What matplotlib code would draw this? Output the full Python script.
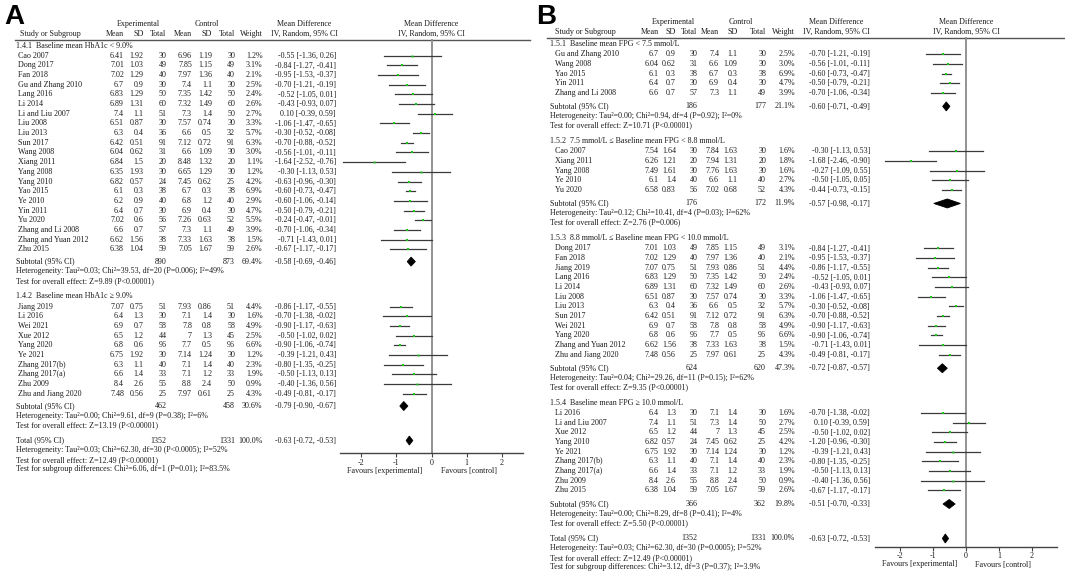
import matplotlib.pyplot as plt
from matplotlib.patches import Polygon

plt.rcParams["font.family"] = ["Liberation Serif", "DejaVu Serif"]

# rows: study, exp mean, exp SD, exp n, ctl mean, ctl SD, ctl n, weight %, MD, lower, upper
hba1c_low = [
    ("Cao 2007", 6.41, 1.92, 30, 6.96, 1.19, 30, 1.2, -0.55, -1.36, 0.26),
    ("Dong 2017", 7.01, 1.03, 49, 7.85, 1.15, 49, 3.1, -0.84, -1.27, -0.41),
    ("Fan 2018", 7.02, 1.29, 40, 7.97, 1.36, 40, 2.1, -0.95, -1.53, -0.37),
    ("Gu and Zhang 2010", 6.7, 0.9, 30, 7.4, 1.1, 30, 2.5, -0.70, -1.21, -0.19),
    ("Lang 2016", 6.83, 1.29, 50, 7.35, 1.42, 50, 2.4, -0.52, -1.05, 0.01),
    ("Li 2014", 6.89, 1.31, 60, 7.32, 1.49, 60, 2.6, -0.43, -0.93, 0.07),
    ("Li and Liu 2007", 7.4, 1.1, 51, 7.3, 1.4, 50, 2.7, 0.10, -0.39, 0.59),
    ("Liu 2008", 6.51, 0.87, 30, 7.57, 0.74, 30, 3.3, -1.06, -1.47, -0.65),
    ("Liu 2013", 6.3, 0.4, 36, 6.6, 0.5, 32, 5.7, -0.30, -0.52, -0.08),
    ("Sun 2017", 6.42, 0.51, 91, 7.12, 0.72, 91, 6.3, -0.70, -0.88, -0.52),
    ("Wang 2008", 6.04, 0.62, 31, 6.6, 1.09, 30, 3.0, -0.56, -1.01, -0.11),
    ("Xiang 2011", 6.84, 1.5, 20, 8.48, 1.32, 20, 1.1, -1.64, -2.52, -0.76),
    ("Yang 2008", 6.35, 1.93, 30, 6.65, 1.29, 30, 1.2, -0.30, -1.13, 0.53),
    ("Yang 2010", 6.82, 0.57, 24, 7.45, 0.62, 25, 4.2, -0.63, -0.96, -0.30),
    ("Yao 2015", 6.1, 0.3, 38, 6.7, 0.3, 38, 6.9, -0.60, -0.73, -0.47),
    ("Ye 2010", 6.2, 0.9, 40, 6.8, 1.2, 40, 2.9, -0.60, -1.06, -0.14),
    ("Yin 2011", 6.4, 0.7, 30, 6.9, 0.4, 30, 4.7, -0.50, -0.79, -0.21),
    ("Yu 2020", 7.02, 0.6, 56, 7.26, 0.63, 52, 5.5, -0.24, -0.47, -0.01),
    ("Zhang and Li 2008", 6.6, 0.7, 57, 7.3, 1.1, 49, 3.9, -0.70, -1.06, -0.34),
    ("Zhang and Yuan 2012", 6.62, 1.56, 38, 7.33, 1.63, 38, 1.5, -0.71, -1.43, 0.01),
    ("Zhu 2015", 6.38, 1.04, 59, 7.05, 1.67, 59, 2.6, -0.67, -1.17, -0.17),
]
hba1c_high = [
    ("Jiang 2019", 7.07, 0.75, 51, 7.93, 0.86, 51, 4.4, -0.86, -1.17, -0.55),
    ("Li 2016", 6.4, 1.3, 30, 7.1, 1.4, 30, 1.6, -0.70, -1.38, -0.02),
    ("Wei 2021", 6.9, 0.7, 58, 7.8, 0.8, 58, 4.9, -0.90, -1.17, -0.63),
    ("Xue 2012", 6.5, 1.2, 44, 7, 1.3, 45, 2.5, -0.50, -1.02, 0.02),
    ("Yang 2020", 6.8, 0.6, 96, 7.7, 0.5, 96, 6.6, -0.90, -1.06, -0.74),
    ("Ye 2021", 6.75, 1.92, 30, 7.14, 1.24, 30, 1.2, -0.39, -1.21, 0.43),
    ("Zhang 2017(b)", 6.3, 1.1, 40, 7.1, 1.4, 40, 2.3, -0.80, -1.35, -0.25),
    ("Zhang 2017(a)", 6.6, 1.4, 33, 7.1, 1.2, 33, 1.9, -0.50, -1.13, 0.13),
    ("Zhu 2009", 8.4, 2.6, 55, 8.8, 2.4, 50, 0.9, -0.40, -1.36, 0.56),
    ("Zhu and Jiang 2020", 7.48, 0.56, 25, 7.97, 0.61, 25, 4.3, -0.49, -0.81, -0.17),
]
fpg_1 = [
    ("Gu and Zhang 2010", 6.7, 0.9, 30, 7.4, 1.1, 30, 2.5, -0.70, -1.21, -0.19),
    ("Wang 2008", 6.04, 0.62, 31, 6.6, 1.09, 30, 3.0, -0.56, -1.01, -0.11),
    ("Yao 2015", 6.1, 0.3, 38, 6.7, 0.3, 38, 6.9, -0.60, -0.73, -0.47),
    ("Yin 2011", 6.4, 0.7, 30, 6.9, 0.4, 30, 4.7, -0.50, -0.79, -0.21),
    ("Zhang and Li 2008", 6.6, 0.7, 57, 7.3, 1.1, 49, 3.9, -0.70, -1.06, -0.34),
]
fpg_2 = [
    ("Cao 2007", 7.54, 1.64, 30, 7.84, 1.63, 30, 1.6, -0.30, -1.13, 0.53),
    ("Xiang 2011", 6.26, 1.21, 20, 7.94, 1.31, 20, 1.8, -1.68, -2.46, -0.90),
    ("Yang 2008", 7.49, 1.61, 30, 7.76, 1.63, 30, 1.6, -0.27, -1.09, 0.55),
    ("Ye 2010", 6.1, 1.4, 40, 6.6, 1.1, 40, 2.7, -0.50, -1.05, 0.05),
    ("Yu 2020", 6.58, 0.83, 56, 7.02, 0.68, 52, 4.3, -0.44, -0.73, -0.15),
]
fpg_3 = [
    ("Dong 2017", 7.01, 1.03, 49, 7.85, 1.15, 49, 3.1, -0.84, -1.27, -0.41),
    ("Fan 2018", 7.02, 1.29, 40, 7.97, 1.36, 40, 2.1, -0.95, -1.53, -0.37),
    ("Jiang 2019", 7.07, 0.75, 51, 7.93, 0.86, 51, 4.4, -0.86, -1.17, -0.55),
    ("Lang 2016", 6.83, 1.29, 50, 7.35, 1.42, 50, 2.4, -0.52, -1.05, 0.01),
    ("Li 2014", 6.89, 1.31, 60, 7.32, 1.49, 60, 2.6, -0.43, -0.93, 0.07),
    ("Liu 2008", 6.51, 0.87, 30, 7.57, 0.74, 30, 3.3, -1.06, -1.47, -0.65),
    ("Liu 2013", 6.3, 0.4, 36, 6.6, 0.5, 32, 5.7, -0.30, -0.52, -0.08),
    ("Sun 2017", 6.42, 0.51, 91, 7.12, 0.72, 91, 6.3, -0.70, -0.88, -0.52),
    ("Wei 2021", 6.9, 0.7, 58, 7.8, 0.8, 58, 4.9, -0.90, -1.17, -0.63),
    ("Yang 2020", 6.8, 0.6, 96, 7.7, 0.5, 96, 6.6, -0.90, -1.06, -0.74),
    ("Zhang and Yuan 2012", 6.62, 1.56, 38, 7.33, 1.63, 38, 1.5, -0.71, -1.43, 0.01),
    ("Zhu and Jiang 2020", 7.48, 0.56, 25, 7.97, 0.61, 25, 4.3, -0.49, -0.81, -0.17),
]
fpg_4 = [
    ("Li 2016", 6.4, 1.3, 30, 7.1, 1.4, 30, 1.6, -0.70, -1.38, -0.02),
    ("Li and Liu 2007", 7.4, 1.1, 51, 7.3, 1.4, 50, 2.7, 0.10, -0.39, 0.59),
    ("Xue 2012", 6.5, 1.2, 44, 7, 1.3, 45, 2.5, -0.50, -1.02, 0.02),
    # printed estimate in the source is -1.20, the marker sits at -0.63
    ("Yang 2010", 6.82, 0.57, 24, 7.45, 0.62, 25, 4.2, -0.63, -0.96, -0.30, "-1.20 [-0.96, -0.30]"),
    ("Ye 2021", 6.75, 1.92, 30, 7.14, 1.24, 30, 1.2, -0.39, -1.21, 0.43),
    ("Zhang 2017(b)", 6.3, 1.1, 40, 7.1, 1.4, 40, 2.3, -0.80, -1.35, -0.25),
    ("Zhang 2017(a)", 6.6, 1.4, 33, 7.1, 1.2, 33, 1.9, -0.50, -1.13, 0.13),
    ("Zhu 2009", 8.4, 2.6, 55, 8.8, 2.4, 50, 0.9, -0.40, -1.36, 0.56),
    ("Zhu 2015", 6.38, 1.04, 59, 7.05, 1.67, 59, 2.6, -0.67, -1.17, -0.17),
]

# subtotals: exp n, ctl n, weight, MD, lower, upper
hba1c_low_sub = (890, 873, 69.4, -0.58, -0.69, -0.46)
hba1c_high_sub = (462, 458, 30.6, -0.79, -0.90, -0.67)
fpg_1_sub = (186, 177, 21.1, -0.60, -0.71, -0.49)
fpg_2_sub = (176, 172, 11.9, -0.57, -0.98, -0.17)
fpg_3_sub = (624, 620, 47.3, -0.72, -0.87, -0.57)
fpg_4_sub = (366, 362, 19.8, -0.51, -0.70, -0.33)
overall = (1352, 1331, 100.0, -0.63, -0.72, -0.53)

hba1c_low_notes = ["Heterogeneity: Tau\u00b2=0.03; Chi\u00b2=39.53, df=20 (P=0.006); I\u00b2=49%",
                   "Test for overall effect: Z=9.89 (P<0.00001)"]
hba1c_high_notes = ["Heterogeneity: Tau\u00b2=0.00; Chi\u00b2=9.61, df=9 (P=0.38); I\u00b2=6%",
                    "Test for overall effect: Z=13.19 (P<0.00001)"]
fpg_1_notes = ["Heterogeneity: Tau\u00b2=0.00; Chi\u00b2=0.94, df=4 (P=0.92); I\u00b2=0%",
               "Test for overall effect: Z=10.71 (P<0.00001)"]
fpg_2_notes = ["Heterogeneity: Tau\u00b2=0.12; Chi\u00b2=10.41, df=4 (P=0.03); I\u00b2=62%",
               "Test for overall effect: Z=2.76 (P=0.006)"]
fpg_3_notes = ["Heterogeneity: Tau\u00b2=0.04; Chi\u00b2=29.26, df=11 (P=0.15); I\u00b2=62%",
               "Test for overall effect: Z=9.35 (P<0.00001)"]
fpg_4_notes = ["Heterogeneity: Tau\u00b2=0.00; Chi\u00b2=8.29, df=8 (P=0.41); I\u00b2=4%",
               "Test for overall effect: Z=5.50 (P<0.00001)"]
total_notes_a = ["Heterogeneity: Tau\u00b2=0.03; Chi\u00b2=62.30, df=30 (P<0.0005); I\u00b2=52%",
                 "Test for overall effect: Z=12.49 (P<0.00001)",
                 "Test for subgroup differences: Chi\u00b2=6.06, df=1 (P=0.01); I\u00b2=83.5%"]
total_notes_b = ["Heterogeneity: Tau\u00b2=0.03; Chi\u00b2=62.30, df=30 (P=0.0005); I\u00b2=52%",
                 "Test for overall effect: Z=12.49 (P<0.00001)",
                 "Test for subgroup differences: Chi\u00b2=3.12, df=3 (P=0.37); I\u00b2=3.9%"]

groups_a = [
    ("1.4.1  Baseline mean HbA1c < 9.0%", hba1c_low, hba1c_low_sub, hba1c_low_notes),
    ("1.4.2  Baseline mean HbA1c \u2265 9.0%", hba1c_high, hba1c_high_sub, hba1c_high_notes),
]
groups_b = [
    ("1.5.1  Baseline mean FPG < 7.5 mmol/L", fpg_1, fpg_1_sub, fpg_1_notes),
    ("1.5.2  7.5 mmol/L \u2264 Baseline mean FPG < 8.8 mmol/L", fpg_2, fpg_2_sub, fpg_2_notes),
    ("1.5.3  8.8 mmol/L \u2264 Baseline mean FPG < 10.0 mmol/L", fpg_3, fpg_3_sub, fpg_3_notes),
    ("1.5.4  Baseline mean FPG \u2265 10.0 mmol/L", fpg_4, fpg_4_sub, fpg_4_notes),
]

W, H = 1065, 573
FS = 5.8
INK = "#1c1c1c"
PITCH = 9.67


def ci_text(md, lo, hi):
    return f"{md:.2f} [{lo:.2f}, {hi:.2f}]"


def diamond(ax, md, lo, hi, y, h=4.5):
    ax.add_patch(Polygon([(lo, y), (md, y - h), (hi, y), (md, y + h)], closed=True,
                         facecolor="black", edgecolor="black", lw=0.6, zorder=4))


def draw_panel(fig, tax, letter, groups, total, total_notes, c):
    kw = dict(fontsize=FS, color=INK, va="center")
    tx = tax.text
    tx(c["letter_x"], 17, letter, family="Liberation Sans", fontweight="bold",
       fontsize=20, ha="left", va="center", color="black")

    h1, h2 = c["head_y"]
    tx(c["exp_c"], h1, "Experimental", ha="center", **kw)
    tx(c["ctl_c"], h1, "Control", ha="center", **kw)
    tx(c["md_c"], h1, "Mean Difference", ha="center", **kw)
    tx(c["md_c"], h2, "IV, Random, 95% CI", ha="center", **kw)
    tx(c["head_x"], h2, "Study or Subgroup", ha="left", **kw)
    for key, lab in [("em", "Mean"), ("es", "SD"), ("en", "Total"),
                     ("cm", "Mean"), ("cs", "SD"), ("cn", "Total"), ("w", "Weight")]:
        tx(c[key], h2, lab, ha="right", **kw)
    tax.plot(c["line_x"], [c["line_y"]] * 2, color="#555555", lw=1.0)

    # forest axes: x in mean difference, y in pixels from the top
    x0, x1 = c["fx"]
    ax = fig.add_axes([x0 / W, 0, (x1 - x0) / W, 1])
    ax.set_facecolor("none")
    ax.set_xlim(*c["xlim"])
    ax.set_ylim(H, 0)
    fc = (x0 + x1) / 2
    tx(fc, h1, "Mean Difference", ha="center", **kw)
    tx(fc, h2, "IV, Random, 95% CI", ha="center", **kw)

    y = c["group_y"]
    for title, rows, sub, notes in groups:
        tx(c["gx"], y, title, ha="left", **kw)
        y += c["head_gap"]
        for i, r in enumerate(rows):
            if i:
                y += PITCH
            name, em, es, en, cm, cs, cn, w, md, lo, hi = r[:11]
            label = r[11] if len(r) > 11 else ci_text(md, lo, hi)
            tx(c["nx"], y, name, ha="left", **kw)
            for key, v in [("em", em), ("es", es), ("en", en), ("cm", cm), ("cs", cs), ("cn", cn)]:
                tx(c[key], y, f"{v:g}", ha="right", **kw)
            tx(c["w"], y, f"{w:.1f}%", ha="right", **kw)
            tx(c["ci"], y, label, ha="right", **kw)
            ax.plot([lo, hi], [y, y], color="#3a3a3a", lw=0.9, zorder=3)
            ax.plot(md, y, "s", color="#19c719", ms=1.3 + 0.1 * w, mew=0, zorder=4)
        y += c["last_to_sub"]
        en, cn, w, md, lo, hi = sub
        tx(c["gx"], y, "Subtotal (95% CI)", ha="left", **kw)
        tx(c["en"], y, f"{en}", ha="right", **kw)
        tx(c["cn"], y, f"{cn}", ha="right", **kw)
        tx(c["w"], y, f"{w:.1f}%", ha="right", **kw)
        tx(c["ci"], y, ci_text(md, lo, hi), ha="right", **kw)
        diamond(ax, md, lo, hi, y)
        y += 9.7
        tx(c["gx"], y, notes[0], ha="left", **kw)
        y += 9.5
        tx(c["gx"], y, notes[1], ha="left", **kw)
        y += 15.5

    y -= 0.2
    en, cn, w, md, lo, hi = total
    tx(c["gx"], y, "Total (95% CI)", ha="left", **kw)
    tx(c["en"], y, f"{en}", ha="right", **kw)
    tx(c["cn"], y, f"{cn}", ha="right", **kw)
    tx(c["w"], y, f"{w:.1f}%", ha="right", **kw)
    tx(c["ci"], y, ci_text(md, lo, hi), ha="right", **kw)
    diamond(ax, md, lo, hi, y)
    for note in total_notes:
        y += 9.6
        tx(c["gx"], y, note, ha="left", **kw)

    ay = c["axis_y"]
    ax.plot([0, 0], [c["line_y"], ay], color="#8a8a8a", lw=1.3, zorder=1)
    for side in ["top", "left", "right"]:
        ax.spines[side].set_visible(False)
    ax.spines["bottom"].set_position(("data", ay))
    ax.spines["bottom"].set_color("#444444")
    ax.spines["bottom"].set_linewidth(1.0)
    ticks = [-2, -1, 0, 1, 2]
    ax.set_xticks(ticks)
    ax.set_xticklabels([str(t) for t in ticks])
    ax.set_yticks([])
    ax.tick_params(axis="x", length=3, width=0.8, pad=1.2, labelsize=FS,
                   color="#444444", labelcolor=INK)
    ax.text(-0.27, ay + 18, "Favours [experimental]", ha="right", **kw)
    ax.text(0.27, ay + 18, "Favours [control]", ha="left", **kw)


fig = plt.figure(figsize=(W / 100, H / 100), dpi=100)
tax = fig.add_axes([0, 0, 1, 1])
tax.set_xlim(0, W)
tax.set_ylim(H, 0)
tax.axis("off")

cfg_a = dict(letter_x=4, head_y=(24, 34), exp_c=138, ctl_c=207, md_c=304, head_x=20.5,
             em=124, es=143.5, en=166.5, cm=192, cs=212, cn=235, w=262.5, ci=336,
             nx=18, gx=16.5, line_x=[15, 530], line_y=40, group_y=45.5, head_gap=10.3,
             fx=(340, 523), xlim=(-2.6, 2.6), last_to_sub=12.4, axis_y=453)
cfg_b = dict(letter_x=536, head_y=(21.7, 31.7), exp_c=673, ctl_c=740.5, md_c=836, head_x=555,
             em=658.5, es=676, en=697.5, cm=719, cs=737.5, cn=766, w=795, ci=870,
             nx=555, gx=550.5, line_x=[547, 1065], line_y=38, group_y=44, head_gap=10.2,
             fx=(875, 1057), xlim=(-2.77, 2.77), last_to_sub=13.5, axis_y=546.5)

draw_panel(fig, tax, "A", groups_a, overall, total_notes_a, cfg_a)
draw_panel(fig, tax, "B", groups_b, overall, total_notes_b, cfg_b)

fig.savefig("out.png", dpi=100)
